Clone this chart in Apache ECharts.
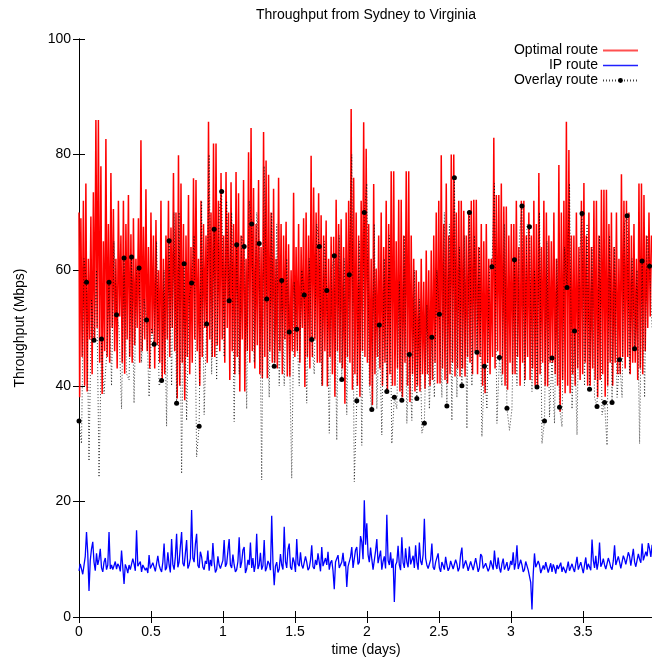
<!DOCTYPE html>
<html>
<head>
<meta charset="utf-8">
<script src="https://cdn.jsdelivr.net/npm/echarts@6/dist/echarts.min.js"></script>
<style>
html,body{margin:0;padding:0;background:#fff;}
#chart{width:652px;height:661px;}
</style>
</head>
<body>
<div id="chart"></div>
<script>
// sample spacing along the time axis (days)
const overlayStepDays = 0.017383;   // overlay route samples
const fineStepDays = 0.0086915;     // optimal and IP route samples
const dotEvery = 3;                 // overlay shows a dot every 3rd sample

const xTickLabels = ['0', '0.5', '1', '1.5', '2', '2.5', '3', '3.5'];
const yTickLabels = ['0', '20', '40', '60', '80', '100'];

const optimalRoute = [
  70, 38, 69, 45, 72, 40,      75, 39, 62, 48, 69.3, 42,    73.5, 48, 86, 50, 86, 44,
  78, 38.6, 65, 46, 82.7, 45,  68, 44, 76.8, 50, 70.6, 46,  62, 43, 72, 52, 66, 44,
  72, 42.1, 68, 48, 73, 45,    66.2, 44, 69, 47, 62, 50,    69, 44, 82.5, 46, 67.5, 48,
  74, 46, 64, 43, 70, 49,      66, 43, 68.7, 47, 60, 44,    72, 41, 62, 42, 66, 48,
  72, 45, 67.4, 50, 76.8, 46,  70, 37.8, 79.9, 40, 75, 44,  68, 37.5, 66, 45, 73, 42,
  64, 44, 75.9, 48, 75.6, 46,  62, 40, 72, 45, 68, 50,      66, 44, 85.7, 48, 70, 45,
  81.9, 45, 81.9, 47, 72, 46,  76.8, 48, 66, 44, 77, 50,    70, 41, 75.2, 46, 68, 42,
  77, 45, 73.3, 39, 66, 48,    75.6, 39, 62, 46, 80.4, 44,  84.6, 46, 74.2, 43, 68, 47,
  75.6, 42, 64, 41.3, 83.9, 45, 79, 41.3, 76.5, 46, 70, 44, 74.1, 44, 62, 43, 76, 46,
  68, 42, 66, 48, 68.4, 41.6,  64.5, 41.6, 60, 46, 73.4, 45, 64, 46, 68, 44, 64, 50,
  69, 39.8, 70, 45, 66, 43,    79.8, 45, 74.3, 48, 70, 44,  73.3, 44, 69.5, 40, 66, 46,
  68.6, 39.9, 62, 45, 65.8, 42, 65.8, 38.1, 72.2, 46, 68, 44, 68.8, 43, 64, 36.9, 70, 45,
  72, 44, 87.9, 39.3, 76, 42,  70, 40, 66, 38.1, 72, 46,    85.6, 45, 81, 44, 68, 40,
  62, 36.7, 74.9, 42, 60.3, 45, 66, 43, 70, 40, 64, 44,     72, 39, 68, 42, 77.1, 40,
  77.1, 40, 65, 43, 72.2, 39,  72.2, 38, 66, 44, 77.1, 40,  77.1, 37.2, 66, 42, 62, 39,
  60, 40, 58, 39, 62, 42,      58, 39.5, 63.4, 42, 60, 40,  63.4, 41, 66, 44, 70, 40.4,
  72, 40.4, 79.9, 43, 68, 41,  75, 40.4, 66, 42, 80, 44,    80, 41.6, 70, 43, 72, 41.6,
  72, 43, 70.3, 41.6, 66, 45,  70.3, 44, 72, 42, 72.2, 46,  72.2, 42, 64, 45, 68, 40,
  65, 38.7, 68, 44, 62, 42,    62, 45, 82.9, 43, 73, 46,    73, 45, 75, 42, 71, 40,
  71, 39.3, 66, 44, 68, 42,    68, 42, 72, 45, 64, 40,      72, 44, 72, 41, 66, 45,
  70, 41, 66, 43, 72, 40,      68, 39.9, 76.8, 42, 64, 44,  72, 40, 70, 39.9, 66, 44,
  65, 44, 70, 42, 62, 40,      78.2, 35.5, 70, 41, 72, 38.7, 85.7, 40, 80.8, 38.7, 66, 42,
  66, 40, 70, 43, 64, 41,      72, 42, 75.1, 44, 66, 40,    70, 40, 64, 43, 72, 41,
  72, 38, 66, 41, 73.9, 42,    73.9, 38.1, 73.9, 40, 68, 44, 70, 40, 64, 44, 70, 42,
  62, 42, 76.6, 45, 72, 43,    72, 45, 70, 42, 66, 44,    68, 44, 62, 41, 75, 43,
  75, 42, 73, 46, 66, 50,      70, 52, 66
];

const ipRoute = [
  8.0, 9.2, 9.5, 7.4, 7.6, 10.5,   14.7, 11, 4.5, 9.8, 11.8, 13,    9.5, 8, 11, 9, 10, 11.8,
  8.5, 7.8, 9.5, 10.2, 8.2, 9,     14.7, 8.3, 9, 8.2, 8.5, 9.6,     8.3, 9.2, 8.8, 7.9, 11.5, 8.6,
  5.7, 9.1, 8.5, 7.6, 9, 8.2,      8.3, 10.1, 9.2, 8, 15, 8.8,      8.5, 9.6, 7.8, 9, 9.2, 8.1,
  8.5, 7.6, 10.7, 8.4, 8.3, 9.4,   9.5, 7.9, 8.2, 10.6, 9, 8.3,     7.8, 9.5, 12.7, 8.1, 8.5, 11.2,
  9, 7.7, 13.5, 9.1, 8.2, 10.4,    14.4, 8.6, 9.5, 12.2, 14.7, 9.3, 8.8, 11, 13.3, 8.4, 9, 10.1,
  18.5, 10.2, 9.5, 12.6, 14.4, 8.9, 8.5, 11.3, 10.4, 8.6, 8.2, 9.7, 9.2, 11.5, 8, 9.9, 8.8, 12.8,
  9.5, 7.7, 8.2, 10.5, 9, 8.4,     8.5, 9.8, 13.3, 8.7, 9.2, 11.4,  13.5, 9, 8.5, 10.8, 9, 7.8,
  8.2, 9.6, 13.8, 8.5, 9.5, 11.6,  12.1, 7.6, 8.3, 9.9, 9, 12.9,    8.5, 10.2, 7.8, 9.1, 14.4, 8.3,
  9, 11.1, 8.2, 8.9, 13.3, 7.9,    8.5, 9.7, 9.2, 8.1, 17.5, 9.4,   5.5, 8.8, 9.5, 7.7, 8.3, 10.9,
  9, 8.2, 15.6, 9.6, 8.5, 11.7,    12.7, 8.6, 8.2, 10.3, 9.5, 7.8,  13.5, 9.2, 8.8, 11.2, 9, 8.4,
  8.2, 10.5, 9.5, 8.1, 8.5, 9.8,   12.4, 8.7, 8.3, 9.9, 9, 11,      9.5, 7.9, 12.1, 8.8, 8.5, 10.2,
  9, 11.3, 8.2, 9.4, 9.8, 8,       4.8, 9.5, 9.2, 10.7, 8.5, 8.2,   9.5, 11.1, 8.8, 9.6, 5.2, 8.7,
  9, 10.4, 12.1, 8.5, 8.5, 11.6,   12.1, 9.1, 9.5, 14, 13, 10,      20.2, 12.5, 16.2, 10.8, 9.5, 12,
  10, 8.2, 8.5, 11.4, 13.5, 9.3,   9, 11.5, 8.2, 9.6, 10.5, 8.4,    17.7, 9.8, 9, 11.2, 8.5, 10.1,
  2.6, 9, 9.5, 12.3, 9, 8.1,       13.8, 9.4, 8.5, 11.9, 9.5, 8.6,  12.2, 9.1, 9, 10.6, 8.5, 12.4,
  9.5, 8.2, 12.9, 9.7, 9, 10.8,    17, 10.2, 9, 8.4, 8.5, 9.9,      12.7, 8.6, 8.2, 9.5, 9.2, 11,
  8.5, 7.8, 9.5, 8.9, 8.2, 10.4,   9, 8, 8.5, 9.7, 10, 8.3,         8.2, 9.9, 9.2, 7.9, 8.5, 10.8,
  12.0, 8.4, 8.5, 9.8, 9, 8,       8.3, 9.6, 9.5, 8.1, 8.2, 10.2,   9, 7.8, 8.5, 10.9, 10.5, 8.4,
  8.2, 9.3, 9.5, 7.9, 8.5, 9.8,    9, 8.2, 11.5, 9.1, 8.3, 10.3,    8.5, 7.7, 9.2, 10.1, 8.2, 8.8,
  9.5, 8, 8.5, 9.7, 9, 11.2,       8.2, 9.4, 12.4, 8.3, 8.5, 9.9,   9, 7.8, 8.2, 9.6, 9.5, 8.1,
  8.3, 6, 1.3, 7.5, 11, 8.6,       8.5, 9.7, 9, 7.6, 7.8, 8.9,      8.2, 9.5, 9.2, 7.7, 8.5, 9.3,
  7.8, 9.1, 8.5, 7.5, 9, 8.3,      8.2, 9.4, 7.8, 8.7, 9, 7.6,      8.5, 9.6, 8, 7.7, 9.2, 8.4,
  7.8, 9.1, 10.4, 8.2, 8.2, 9.5,   8.5, 7.6, 9, 10.3, 8.2, 9.2,     9, 8.1, 13.4, 9.8, 8.5, 10.6,
  8.2, 9.4, 12.9, 8.7, 9.2, 10.1,  9, 8.3, 8.5, 10.2, 9.5, 8.6,     8.2, 9.7, 12.4, 9, 9, 10.5,
  9.5, 8.4, 8.5, 10.6, 10, 9.1,    9, 11.2, 10.5, 8.9, 9.2, 11.8,   9.5, 8.7, 8.8, 10.9, 10, 9.4,
  12.7, 9.8, 9.5, 11.3, 10.5, 12.8, 11.8, 10.4, 12.5
];

const overlayRoute = [
  33.9, 30, 62, 57.9, 27, 55, 47.9, 60, 24.2, 48.1, 38.6, 45,
  57.9, 40, 65, 52.3, 50, 36, 62.1, 42.1, 41, 62.3, 37, 60,
  60.4, 44, 55, 51.4, 38.1, 50, 47.2, 65, 40, 40.9, 60, 33,
  65.1, 40, 70, 37.0, 70, 24.8, 61.1, 34, 55, 57.8, 66, 27.7,
  33.0, 72, 35, 50.7, 80, 42, 67.1, 41, 70, 73.6, 45, 72,
  54.7, 70, 33.8, 64.4, 42, 66, 64.1, 36, 72, 68.0, 44, 70,
  64.6, 23.7, 78, 55.0, 38, 70, 43.4, 68, 40, 58.2, 40, 62,
  49.3, 24, 58, 49.8, 40, 60, 55.7, 37, 62, 48.0, 42, 68,
  64.1, 40, 65, 56.5, 31.8, 60, 62.5, 30.6, 66, 41.1, 62, 35,
  59.2, 80, 23.4, 37.4, 65, 29.7, 70.0, 75, 40, 35.9, 68, 36,
  50.5, 31.5, 62, 39.0, 66, 30, 38.0, 36, 58, 37.5, 66, 33.5,
  45.4, 34, 60, 37.8, 55, 31.8, 33.5, 54, 36, 48.4, 38, 60,
  52.4, 38, 70, 36.5, 68, 34, 76.0, 38, 64, 40.0, 66, 32.6,
  70.0, 40, 66, 45.8, 64, 31.2, 43.4, 36, 60, 60.6, 75, 33.5,
  44.9, 40, 68, 36.1, 32.3, 36, 61.8, 40, 66, 71.1, 40, 68,
  67.5, 39, 60, 39.8, 70, 30, 33.9, 65, 34.6, 44.8, 33.5, 62,
  36.3, 32.9, 64, 57.0, 75, 36, 49.5, 31.5, 62, 69.8, 40, 68,
  39.4, 64, 38, 36.4, 66, 35, 37.1, 29.7, 66, 37.1, 64, 38,
  44.5, 38, 68, 69.4, 42, 62, 46.4, 60, 30, 61.6, 38, 66,
  60.7, 50
];

const FONT = '"Liberation Sans", Arial, Helvetica, sans-serif';

const toPoints = (arr, step) => arr.map((v, i) => [i * step, v]);
const overlayPoints = overlayRoute.map((v, i) =>
  i % dotEvery === 0 ? [i * overlayStepDays, v] : { value: [i * overlayStepDays, v], symbol: 'none' }
);

const xLabelFmt = v => {
  const s = String(+v.toFixed(2));
  return xTickLabels.indexOf(s) >= 0 ? s : '';
};
const yLabelFmt = v => {
  const s = String(Math.round(v));
  return yTickLabels.indexOf(s) >= 0 ? s : '';
};

const axisCommonX = {
  type: 'value', min: 0, max: 3.98, interval: 0.5,
  axisLine: { show: true, lineStyle: { color: '#000', width: 1 } },
  axisTick: { show: true, inside: true, length: 6, lineStyle: { color: '#000' } },
  splitLine: { show: false }
};
const axisCommonY = {
  type: 'value', min: 0, max: 100, interval: 20,
  axisLine: { show: true, lineStyle: { color: '#000', width: 1 } },
  axisTick: { show: true, inside: true, length: 6, lineStyle: { color: '#000' } },
  splitLine: { show: false }
};

const hiddenSymbol = { color: 'rgba(0,0,0,0)', borderColor: 'rgba(0,0,0,0)', borderWidth: 0 };

const chart = echarts.init(document.getElementById('chart'), null, { renderer: 'canvas' });
chart.setOption({
  animation: false,
  backgroundColor: '#fff',
  textStyle: { fontFamily: FONT },
  grid: { left: 79, right: -1, top: 39, bottom: 44, containLabel: false },
  xAxis: [
    Object.assign({}, axisCommonX, {
      position: 'bottom',
      axisLabel: { show: true, color: '#000', fontSize: 14, fontFamily: FONT, margin: 8, formatter: xLabelFmt, showMaxLabel: false }
    }),
    Object.assign({}, axisCommonX, {
      position: 'top',
      axisLabel: { show: false }
    })
  ],
  yAxis: [
    Object.assign({}, axisCommonY, {
      position: 'left',
      axisLabel: { show: true, color: '#000', fontSize: 14, fontFamily: FONT, margin: 8, formatter: yLabelFmt }
    }),
    Object.assign({}, axisCommonY, {
      position: 'right',
      axisLabel: { show: false }
    })
  ],
  legend: {
    orient: 'vertical',
    align: 'right',
    right: 13,
    top: 43,
    padding: 0,
    itemGap: 0,
    itemWidth: 35,
    itemHeight: 6,
    textStyle: { fontSize: 14, fontFamily: FONT, color: '#000', lineHeight: 15 },
    data: [
      { name: 'Optimal route', itemStyle: hiddenSymbol, lineStyle: { width: 2, color: '#ff5050' } },
      { name: 'IP route', itemStyle: hiddenSymbol, lineStyle: { width: 1.5, color: '#2020ff' } },
      { name: 'Overlay route' }
    ]
  },
  graphic: [
    { type: 'text', x: 366, y: 15, style: { text: 'Throughput from Sydney to Virginia', font: '14px ' + FONT, fill: '#000', align: 'center', verticalAlign: 'middle' } },
    { type: 'text', x: 366, y: 650, style: { text: 'time (days)', font: '14px ' + FONT, fill: '#000', align: 'center', verticalAlign: 'middle' } },
    { type: 'text', x: 20, y: 328, rotation: Math.PI / 2, style: { text: 'Throughput (Mbps)', font: '14px ' + FONT, fill: '#000', align: 'center', verticalAlign: 'middle' } }
  ],
  series: [
    {
      name: 'Optimal route', type: 'line', xAxisIndex: 0, yAxisIndex: 0,
      data: toPoints(optimalRoute, fineStepDays), symbol: 'none', step: 'middle',
      lineStyle: { color: '#ff0000', width: 1.5 }, itemStyle: { color: '#ff0000' }
    },
    {
      name: 'IP route', type: 'line', xAxisIndex: 0, yAxisIndex: 0,
      data: toPoints(ipRoute, fineStepDays), symbol: 'none',
      lineStyle: { color: '#0000ff', width: 1.3 }, itemStyle: { color: '#0000ff' }
    },
    {
      name: 'Overlay route', type: 'line', xAxisIndex: 0, yAxisIndex: 0,
      data: overlayPoints, symbol: 'circle', symbolSize: 5, showAllSymbol: true,
      lineStyle: { color: 'rgba(0,0,0,0.75)', width: 1, type: [1, 2] },
      itemStyle: { color: '#000' }
    }
  ]
});
</script>
</body>
</html>
